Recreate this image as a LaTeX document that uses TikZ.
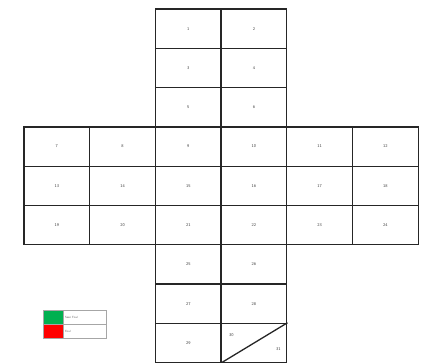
\documentclass[tikz,border=0pt]{standalone}
\usepackage{tikz}
\tikzset{
  cellbox/.style={draw=black!85, line width=1.3pt, minimum width=65.7pt, minimum height=39.3pt, inner sep=0pt, font=\fontsize{4.2pt}{5pt}\selectfont\sffamily, text=black!75},
  keybox/.style={draw=black!35, line width=0.5pt, minimum width=20pt, minimum height=14pt, inner sep=0pt},
  keytext/.style={draw=black!35, line width=0.5pt, minimum width=43pt, minimum height=14pt, inner sep=1.5pt, text width=40pt, align=left, font=\fontsize{3pt}{3.5pt}\selectfont\sffamily, text=black!60}
}
\begin{document}
\begin{tikzpicture}[x=1pt, y=-1pt]
\useasboundingbox (0,0) rectangle (422,363);
\fill[white] (0,0) rectangle (422,363);
% centre column, two cells per row
\foreach \r/\n in {0/1, 1/3, 2/5, 6/25, 7/27}{
  \pgfmathtruncatemacro{\m}{\n+1}
  \node[cellbox] (cell\n) at ({24+65.7*2.5},{9+39.3*(\r+0.5)}) {\n};
  \node[cellbox] (cell\m) at ({24+65.7*3.5},{9+39.3*(\r+0.5)}) {\m};
}
% the three full rows
\foreach \r/\n in {3/7, 4/13, 5/19}{
  \foreach \c in {0,...,5}{
    \pgfmathtruncatemacro{\m}{\n+\c}
    \node[cellbox] (cell\m) at ({24+65.7*(\c+0.5)},{9+39.3*(\r+0.5)}) {\m};
  }
}
% bottom row, split cell
\node[cellbox] (cell29) at ({24+65.7*2.5},{9+39.3*8.5}) {29};
\node[cellbox] (cell30) at ({24+65.7*3.5},{9+39.3*8.5}) {};
\draw[black!85, line width=1.3pt] (cell30.south west) -- (cell30.north east);
\node[font=\fontsize{4.2pt}{5pt}\selectfont\sffamily, text=black!75] (lbl30) at ([xshift=11pt, yshift=-12pt]cell30.north west) {30};
\node[font=\fontsize{4.2pt}{5pt}\selectfont\sffamily, text=black!75] (lbl31) at ([xshift=-9pt, yshift=14pt]cell30.south east) {31};
% legend
\node[keybox, fill={rgb,255:red,0;green,176;blue,80}] (keygreen) at (53,317) {};
\node[keybox, fill=red] (keyred) at (53,331) {};
\node[keytext, anchor=west] (keyseen) at (keygreen.east) {Seen Foul};
\node[keytext, anchor=west] (keyfoul) at (keyred.east) {Foul};
\end{tikzpicture}
\end{document}
